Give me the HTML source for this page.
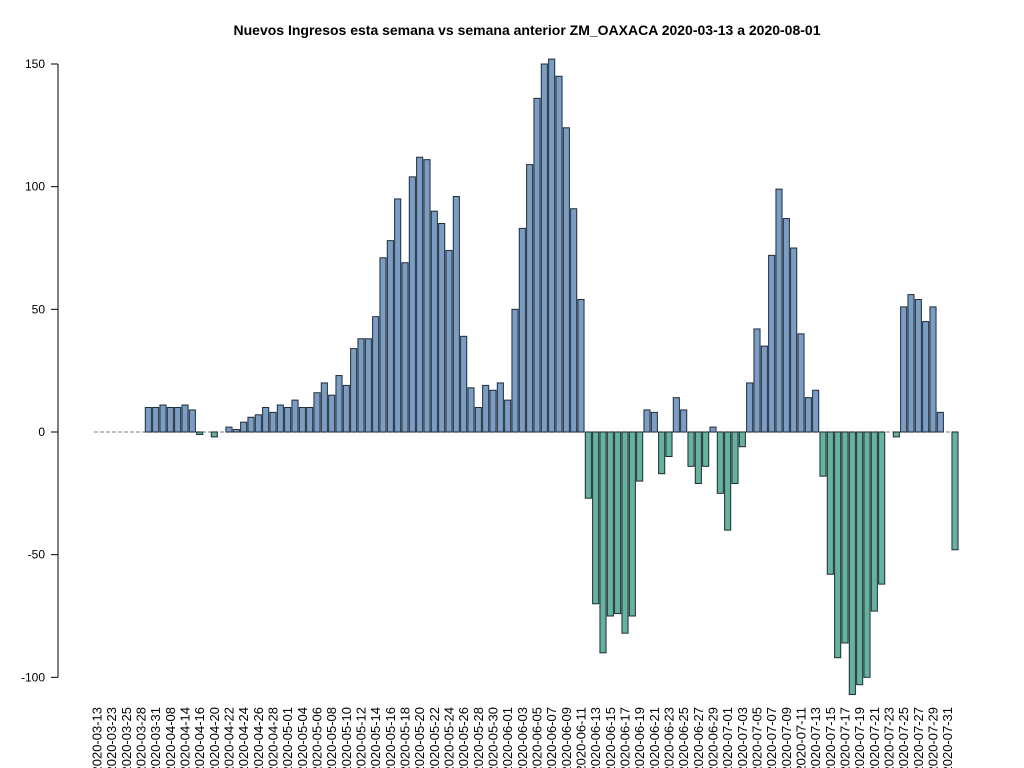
<!DOCTYPE html>
<html><head><meta charset="utf-8"><style>
html,body{margin:0;padding:0;background:#fff;}
svg{display:block;font-family:"Liberation Sans",Arial,sans-serif;}
</style></head><body>
<svg id="chart" width="1024" height="768" viewBox="0 0 1024 768">
<text x="527" y="35" text-anchor="middle" font-size="14" font-weight="bold">Nuevos Ingresos esta semana vs semana anterior ZM_OAXACA 2020-03-13 a 2020-08-01</text>
<g id="yaxis"></g>
<line x1="94" x2="958" y1="432" y2="432" stroke="#999" stroke-width="1.2" stroke-dasharray="4,2"/>
<g id="bars"></g>
<g id="xlabels"></g>
</svg>
<script>
const values = [0,0,0,0,0,0,0,10,10,11,10,10,11,9,-1,0,-2,0,2,1,4,6,7,10,8,11,10,13,10,10,16,20,15,23,19,34,38,38,47,71,78,95,69,104,112,111,90,85,74,96,39,18,10,19,17,20,13,50,83,109,136,150,152,145,124,91,54,-27,-70,-90,-75,-74,-82,-75,-20,9,8,-17,-10,14,9,-14,-21,-14,2,-25,-40,-21,-6,20,42,35,72,99,87,75,40,14,17,-18,-58,-92,-86,-107,-103,-100,-73,-62,0,-2,51,56,54,45,51,8,0,-48];
const labels = ["2020-03-13","2020-03-23","2020-03-25","2020-03-28","2020-03-31","2020-04-08","2020-04-14","2020-04-16","2020-04-20","2020-04-22","2020-04-24","2020-04-26","2020-04-28","2020-05-01","2020-05-04","2020-05-06","2020-05-08","2020-05-10","2020-05-12","2020-05-14","2020-05-16","2020-05-18","2020-05-20","2020-05-22","2020-05-24","2020-05-26","2020-05-28","2020-05-30","2020-06-01","2020-06-03","2020-06-05","2020-06-07","2020-06-09","2020-06-11","2020-06-13","2020-06-15","2020-06-17","2020-06-19","2020-06-21","2020-06-23","2020-06-25","2020-06-27","2020-06-29","2020-07-01","2020-07-03","2020-07-05","2020-07-07","2020-07-09","2020-07-11","2020-07-13","2020-07-15","2020-07-17","2020-07-19","2020-07-21","2020-07-23","2020-07-25","2020-07-27","2020-07-29","2020-07-31"];
const yTicks = [-100,-50,0,50,100,150];

const NS = "http://www.w3.org/2000/svg";
const step = (955 - 97) / 117;
function xc(i){ return 97 + i * step; }
function y(v){ return 432 - v * (368 / 150); }

const bars = document.getElementById('bars');
values.forEach((v, i) => {
  if (v === 0) return;
  const r = document.createElementNS(NS, 'rect');
  
  
  const bw = step / 1.2;
  r.setAttribute('x', (xc(i) - bw / 2).toFixed(2));
  r.setAttribute('y', Math.min(y(v), y(0)).toFixed(2));
  r.setAttribute('width', bw.toFixed(2));
  r.setAttribute('height', Math.abs(y(v) - y(0)).toFixed(2));
  r.setAttribute('fill', v > 0 ? '#7B9DC3' : '#65B29D');
  r.setAttribute('stroke', '#1d2b38');
  r.setAttribute('stroke-width', '1');
  bars.appendChild(r);
});

const ya = document.getElementById('yaxis');
const al = document.createElementNS(NS, 'line');


al.setAttribute('x1', 58); al.setAttribute('x2', 58);
al.setAttribute('y1', y(150)); al.setAttribute('y2', y(-100));
al.setAttribute('stroke', '#000');
ya.appendChild(al);
yTicks.forEach(t => {
  const l = document.createElementNS(NS, 'line');
  
  
  l.setAttribute('x1', 51); l.setAttribute('x2', 58);
  l.setAttribute('y1', y(t)); l.setAttribute('y2', y(t));
  l.setAttribute('stroke', '#000');
  ya.appendChild(l);
  const tx = document.createElementNS(NS, 'text');
  
  
  tx.setAttribute('x', 45); tx.setAttribute('y', y(t) + 4);
  tx.setAttribute('text-anchor', 'end');
  tx.setAttribute('font-size', '12');
  tx.textContent = t;
  ya.appendChild(tx);
});

const xl = document.getElementById('xlabels');
labels.forEach((s, k) => {
  const t = document.createElementNS(NS, 'text');
  
  
  const x = xc(k * 2) + 4.5;
  t.setAttribute('transform', 'translate(' + x.toFixed(2) + ',707) rotate(-90)');
  t.setAttribute('text-anchor', 'end');
  t.setAttribute('font-size', '13');
  t.textContent = s;
  xl.appendChild(t);
});
</script>
</body></html>
